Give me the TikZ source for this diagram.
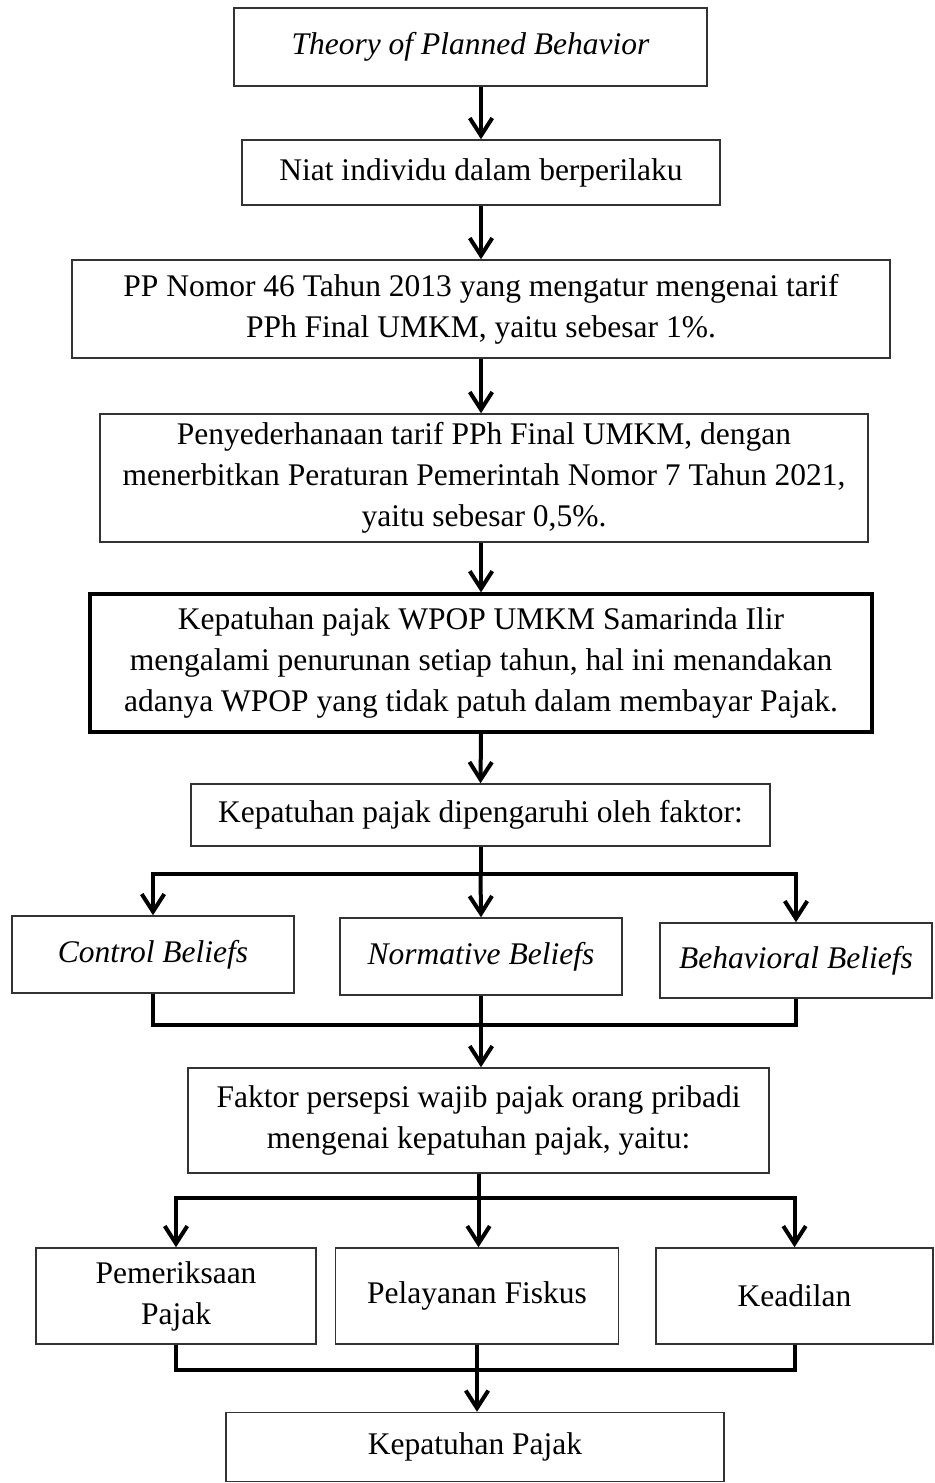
\documentclass[tikz,border=0pt]{standalone}
\usepackage{fontspec}
\setmainfont{Liberation Serif}
\usetikzlibrary{arrows.meta}

\begin{document}
\begin{tikzpicture}[x=0.4pt,y=-0.4pt,
	box/.style={rectangle, draw=black!80, line width=0.6pt, align=center, inner sep=2pt,
		font=\fontsize{12.6pt}{16.4pt}\selectfont},
	thickbox/.style={box, draw=black, line width=1.3pt},
	conn/.style={line width=1.6pt},
	arr/.style={conn, -{Straight Barb[length=7pt,width=9pt]}}]
	\useasboundingbox (0,0) rectangle (934,1483);
	% main column
	\node (b1) at (470.5,  47)	[box, minimum width=189.2pt, minimum height=31.2pt]	{\textit{Theory of Planned Behavior}};
	\node (b2) at (481, 172.5)	[box, minimum width=191.2pt, minimum height=26pt]	{Niat individu dalam berperilaku};
	\node (b3) at (481,  309)	[box, minimum width=327.2pt, minimum height=39.2pt]	{PP Nomor 46 Tahun 2013 yang mengatur mengenai tarif\\PPh Final UMKM, yaitu sebesar 1\%.};
	\node (b4) at (484,  478)	[box, minimum width=307.2pt, minimum height=51.2pt]	{Penyederhanaan tarif PPh Final UMKM, dengan\\menerbitkan Peraturan Pemerintah Nomor 7 Tahun 2021,\\yaitu sebesar 0,5\%.};
	\node (b5) at (481,  663)	[thickbox, minimum width=312.8pt, minimum height=55.2pt]	{Kepatuhan pajak WPOP UMKM Samarinda Ilir\\mengalami penurunan setiap tahun, hal ini menandakan\\adanya WPOP yang tidak patuh dalam membayar Pajak.};
	\node (b6) at (480.5, 815)	[box, minimum width=231.6pt, minimum height=24.8pt]	{Kepatuhan pajak dipengaruhi oleh faktor:};
	% beliefs
	\node (c1) at (153, 954.5)	[box, minimum width=112.8pt, minimum height=30.8pt]	{\textit{Control Beliefs}};
	\node (c2) at (481, 956.5)	[box, minimum width=112.8pt, minimum height=30.8pt]	{\textit{Normative Beliefs}};
	\node (c3) at (796, 960.5)	[box, minimum width=108.8pt, minimum height=30pt]	{\textit{Behavioral Beliefs}};
	\node (b7) at (478.5,1120.5)	[box, minimum width=232.4pt, minimum height=42pt]	{Faktor persepsi wajib pajak orang pribadi\\mengenai kepatuhan pajak, yaitu:};
	% perception factors
	\node (d1) at (176,  1296)	[box, minimum width=112pt, minimum height=38.4pt]	{Pemeriksaan\\Pajak};
	\node (d2) at (477, 1296)	[box, minimum width=113.2pt, minimum height=38.4pt]	{Pelayanan Fiskus};
	\node (d3) at (794.5,1296)	[box, minimum width=110.8pt, minimum height=38.4pt]	{Keadilan};
	\node (b8) at (475, 1447)	[box, minimum width=199.2pt, minimum height=27.6pt]	{Kepatuhan Pajak};
	\coordinate (s1) at (480.5, 874);
	\coordinate (j1) at (480, 1025);
	\coordinate (s2) at (478.5, 1198);
	\coordinate (j2) at (477, 1370);
	\draw[arr] (b1.south -| b2.north) -- (b2.north);
	\draw[arr] (b2.south) -- (b3.north);
	\draw[arr] (b3.south) -- (b3.south |- b4.north);
	\draw[arr] (b4.south -| b5.north) -- (b5.north);
	\draw[arr] (b5.south) -- (b6.north);
	\draw[conn] (b6.south) -- (s1);
	\draw[arr] (s1) -| (c1.north);
	\draw[arr] (s1) -| (c3.north);
	\draw[arr] (s1) -- (c2.north);
	\draw[conn] (c1.south) |- (j1) -| (c3.south);
	\draw[arr] (c2.south) -- (c2.south |- b7.north);
	\draw[conn] (b7.south) -- (s2);
	\draw[arr] (s2) -| (d1.north);
	\draw[arr] (s2) -| (d3.north);
	\draw[arr] (s2) -- (s2 |- d2.north);
	\draw[conn] (d1.south) |- (j2) -| (d3.south);
	\draw[arr] (d2.south) -- (d2.south |- b8.north);
\end{tikzpicture}
\end{document}
